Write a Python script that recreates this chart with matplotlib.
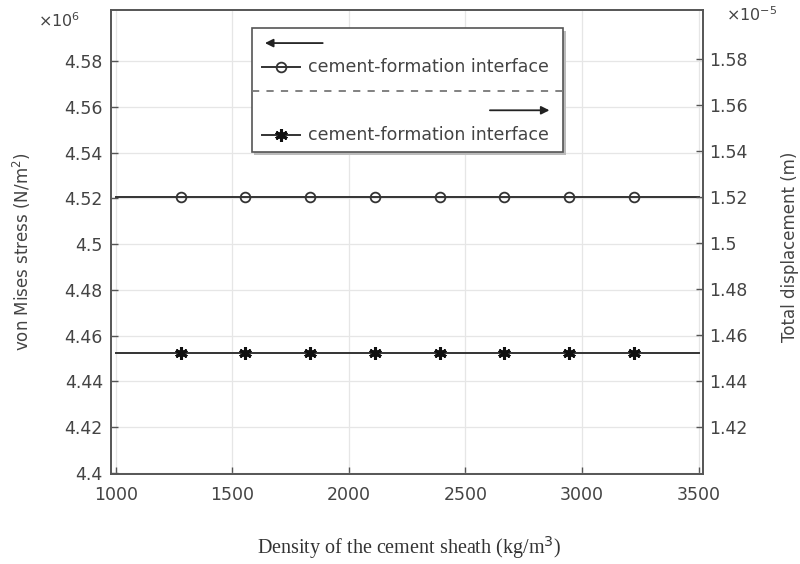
import matplotlib
matplotlib.use('Agg')
import matplotlib.pyplot as plt
from matplotlib.patches import Rectangle

# Values
density = [1000, 1278, 1556, 1833, 2111, 2389, 2667, 2944, 3222, 3500]   # kg/m^3
stress = [4.5206] * len(density)        # x1e6 N/m^2 (cement-formation interface)
displacement = [1.4521] * len(density)  # x1e-5 m  (cement-formation interface)

x_ticks = [1000, 1500, 2000, 2500, 3000, 3500]
left_ticks = [4.4, 4.42, 4.44, 4.46, 4.48, 4.5, 4.52, 4.54, 4.56, 4.58]
right_ticks = [1.42, 1.44, 1.46, 1.48, 1.5, 1.52, 1.54, 1.56, 1.58]

label_txt = 'cement-formation interface'
txt_col = '#444444'
line_col = '#333333'

fig = plt.figure(figsize=(8, 5.64), dpi=100)
fig.subplots_adjust(left=0.139, right=0.879, top=0.982, bottom=0.160)
ax = fig.add_subplot(111)
ax2 = ax.twinx()

marks = list(range(1, len(density) - 1))
ax.plot(density, stress, color=line_col, lw=1.4, marker='o', markevery=marks,
        markersize=7, markerfacecolor='none', markeredgecolor=line_col, markeredgewidth=1.3)
ax2.plot(density, displacement, color=line_col, lw=1.4, marker=(6, 2, 0), markevery=marks,
         markersize=9, markeredgecolor='#111111', markeredgewidth=2.2)

ax.set_xlim(980, 3520)
ax.set_ylim(4.3996, 4.6023)
ax2.set_ylim(1.3999, 1.601)

ax.set_xticks(x_ticks)
ax.set_yticks(left_ticks)
ax.set_yticklabels(['%g' % v for v in left_ticks])
ax2.set_yticks(right_ticks)
ax2.set_yticklabels(['%g' % v for v in right_ticks])

ax.grid(True, color='#e6e6e6', lw=0.9)
ax.set_axisbelow(True)

for a in (ax, ax2):
    a.tick_params(direction='in', length=5, width=1.0, colors='#555555',
                  labelcolor=txt_col, labelsize=12.5)
    for s in a.spines.values():
        s.set_color('#555555')
        s.set_linewidth(1.2)
ax.tick_params(axis='y', pad=6)
ax.tick_params(axis='x', pad=9)
ax2.tick_params(axis='y', pad=4)

ax.set_ylabel('von Mises stress (N/m$^2$)', color=txt_col, fontsize=12)
ax.yaxis.set_label_coords(-0.132, 0.478)
ax2.set_ylabel('Total displacement (m)', color=txt_col, fontsize=12, rotation=90)
ax2.yaxis.set_label_coords(1.131, 0.489)

fig.text(0.047, 0.953, r'$\times$10$^6$', color=txt_col, fontsize=11.5)
fig.text(0.908, 0.962, r'$\times$10$^{-5}$', color=txt_col, fontsize=11.5)

fig.text(0.511, 0.03, 'Density of the cement sheath (kg/m$^3$)', ha='center', va='center',
         family=['Liberation Serif', 'DejaVu Serif'], fontsize=14.5, color='#333333')

# Legend drawn by hand in axes coordinates
x0, x1 = 0.238, 0.764
y0, y1 = 0.694, 0.961
ax2.add_patch(Rectangle((x0 + 0.004, y0 - 0.007), x1 - x0, y1 - y0, transform=ax2.transAxes,
                        facecolor='#bbbbbb', edgecolor='none', zorder=5))
ax2.add_patch(Rectangle((x0, y0), x1 - x0, y1 - y0, transform=ax2.transAxes,
                        facecolor='white', edgecolor='#555555', lw=1.2, zorder=6))
ax2.annotate('', xy=(0.255, 0.929), xytext=(0.362, 0.929), xycoords='axes fraction',
             arrowprops=dict(arrowstyle='-|>', color='#222222', lw=1.3, mutation_scale=12), zorder=7)
ax2.plot([0.254, 0.319], [0.877, 0.877], transform=ax2.transAxes, color=line_col, lw=1.4, zorder=7)
ax2.plot([0.287], [0.877], transform=ax2.transAxes, marker='o', markersize=7,
         markerfacecolor='none', markeredgecolor=line_col, markeredgewidth=1.3, zorder=7)
ax2.text(0.333, 0.877, label_txt, transform=ax2.transAxes, va='center', fontsize=12.5,
         color=txt_col, zorder=7)
ax2.plot([x0, x1], [0.825, 0.825], transform=ax2.transAxes, color='#777777', lw=1.3,
         ls=(0, (4, 4)), zorder=7)
ax2.annotate('', xy=(0.745, 0.784), xytext=(0.635, 0.784), xycoords='axes fraction',
             arrowprops=dict(arrowstyle='-|>', color='#222222', lw=1.3, mutation_scale=12), zorder=7)
ax2.plot([0.254, 0.319], [0.731, 0.731], transform=ax2.transAxes, color=line_col, lw=1.4, zorder=7)
ax2.plot([0.287], [0.731], transform=ax2.transAxes, marker=(6, 2, 0), markersize=9,
         markeredgecolor='#111111', markeredgewidth=2.2, zorder=7)
ax2.text(0.333, 0.731, label_txt, transform=ax2.transAxes, va='center', fontsize=12.5,
         color=txt_col, zorder=7)

fig.savefig('out.png', dpi=100)
